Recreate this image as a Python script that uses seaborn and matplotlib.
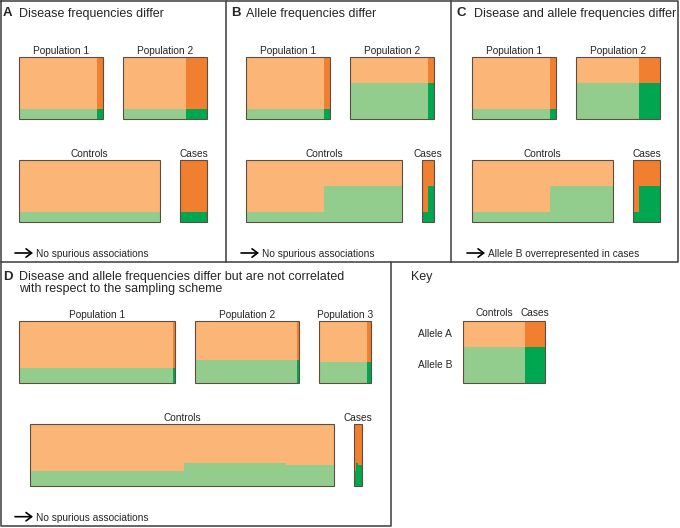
import matplotlib
matplotlib.use("Agg")
import matplotlib.pyplot as plt
import seaborn as sns

# --- Data: individuals sampled per population (controls / cases) and allele B frequency ---
a_pops = ["Population 1", "Population 2"]
a_controls = [930, 750]
a_cases = [70, 250]
a_freq_b = [0.16, 0.16]

b_pops = ["Population 1", "Population 2"]
b_controls = [930, 930]
b_cases = [70, 70]
b_freq_b = [0.16, 0.58]

c_pops = ["Population 1", "Population 2"]
c_controls = [930, 750]
c_cases = [70, 250]
c_freq_b = [0.16, 0.58]

d_pops = ["Population 1", "Population 2", "Population 3"]
d_controls = [2960, 1960, 920]
d_cases = [40, 40, 80]
d_freq_b = [0.24, 0.37, 0.34]

key_groups = ["Controls", "Cases"]
key_alleles = ["Allele A", "Allele B"]
key_sizes = [740, 240]
key_freq_b = 0.58

titles = ["Disease frequencies differ", "Allele frequencies differ",
          "Disease and allele frequencies differ",
          "Disease and allele frequencies differ but are not correlated\nwith respect to the sampling scheme"]
letters = ["A", "B", "C", "D"]
conclusions = ["No spurious associations", "No spurious associations",
               "Allele B overrepresented in cases", "No spurious associations"]

# --- Style ---
sns.set_style("white")
plt.rcParams['font.family'] = ['Liberation Sans', 'DejaVu Sans']

LO, DO = '#FBB576', '#F07F30'   # allele A: controls / cases
LG, DG = '#93CD8D', '#00A650'   # allele B: controls / cases
EDGE = '#5b4f45'
BORDER = '#3c3c3c'
H = 62        # box height (px)
GAP = 20      # gap between boxes (px)
LAB = 7.3     # label font size


def box(ax, x, top, parts, label):
    """parts: list of (width, freq_b, light?) segments drawn left to right."""
    total = sum(w for w, _, _ in parts)
    cx = x
    for w, f, light in parts:
        ax.bar(cx, H * (1 - f), width=w, bottom=top, align='edge',
               color=LO if light else DO, linewidth=0)
        ax.bar(cx, H * f, width=w, bottom=top + H * (1 - f), align='edge',
               color=LG if light else DG, linewidth=0)
        cx += w
    ax.bar(x, H, width=total, bottom=top, align='edge', fill=False,
           edgecolor=EDGE, linewidth=0.8)
    if label:
        ax.text(x + total / 2, top - 2.7, label, ha='center', va='baseline', fontsize=LAB)
    return total


def panel(ax, x0, top, pops, controls, cases, freqs, scale, cx0, ctop):
    # populations row
    x = x0
    for name, n0, n1, f in zip(pops, controls, cases, freqs):
        w = box(ax, x, top, [(n0 * scale, f, True), (n1 * scale, f, False)], name)
        x += w + GAP
    # pooled controls and cases
    w = box(ax, cx0, ctop, [(n0 * scale, f, True) for n0, f in zip(controls, freqs)], "Controls")
    box(ax, cx0 + w + GAP, ctop, [(n1 * scale, f, False) for n1, f in zip(cases, freqs)], "Cases")


def header(ax, xl, xt, y, letter, title):
    ax.text(xl, y, letter, fontsize=9.5, fontweight='bold', va='baseline')
    ax.text(xt, y, title, fontsize=9, va='baseline', linespacing=1.2)


def conclusion(ax, x, y, text):
    ax.annotate("", xy=(x + 18, y - 4), xytext=(x, y - 4),
                arrowprops=dict(arrowstyle='->,head_length=0.4,head_width=0.3',
                                lw=1.2, color='black', shrinkA=0, shrinkB=0))
    ax.text(x + 21, y, text, fontsize=LAB, va='baseline')


fig = plt.figure(figsize=(6.8, 5.28), dpi=100)
ax = fig.add_axes([0, 0, 1, 1])
ax.set_xlim(0, 680)
ax.set_ylim(528, 0)
ax.axis('off')

# panel frames
ax.plot([0.7, 678, 678, 0.7, 0.7], [0.7, 0.7, 261.5, 261.5, 0.7], color=BORDER, lw=1.1)
for xv in [226, 451]:
    ax.plot([xv, xv], [0.7, 261.5], color=BORDER, lw=1.1)
ax.plot([0.7, 0.7, 391, 391], [261.5, 526, 526, 261.5], color=BORDER, lw=1.1)

# A, B, C
tops = [(3, 19.3, 19), (231, 245.7, 246), (456.7, 474, 472)]
datasets = [(a_pops, a_controls, a_cases, a_freq_b),
            (b_pops, b_controls, b_cases, b_freq_b),
            (c_pops, c_controls, c_cases, c_freq_b)]
for i, ((xl, xt, x0), d) in enumerate(zip(tops, datasets)):
    header(ax, xl, xt, 16.5, letters[i], titles[i])
    panel(ax, x0, 57, *d, scale=0.084, cx0=x0, ctop=160)
    conclusion(ax, x0 - 4 if i == 0 else x0 - 5, 257, conclusions[i])

# D
ax.text(3, 280, letters[3], fontsize=9.5, fontweight='bold', va='baseline')
ax.text(19.3, 280, titles[3].split("\n")[0], fontsize=9, va='baseline')
ax.text(19.3, 292.3, titles[3].split("\n")[1], fontsize=9, va='baseline')
panel(ax, 19, 321, d_pops, d_controls, d_cases, d_freq_b, scale=0.052, cx0=30, ctop=424)
conclusion(ax, 15, 520.7, conclusions[3])

# Key
ax.text(411, 280, "Key", fontsize=9, va='baseline')
ks = 0.084
kx, ktop = 463, 321
box(ax, kx, ktop, [(key_sizes[0] * ks, key_freq_b, True),
                   (key_sizes[1] * ks, key_freq_b, False)], None)
ax.text(kx + key_sizes[0] * ks / 2, 316, key_groups[0], ha='center', va='baseline', fontsize=LAB)
ax.text(kx + key_sizes[0] * ks + key_sizes[1] * ks / 2, 316, key_groups[1],
        ha='center', va='baseline', fontsize=LAB)
ax.text(452, ktop + H * (1 - key_freq_b) / 2, key_alleles[0], ha='right', va='center', fontsize=LAB)
ax.text(452, ktop + H * (1 - key_freq_b) + H * key_freq_b / 2, key_alleles[1],
        ha='right', va='center', fontsize=LAB)

fig.savefig("out.png", dpi=100)
